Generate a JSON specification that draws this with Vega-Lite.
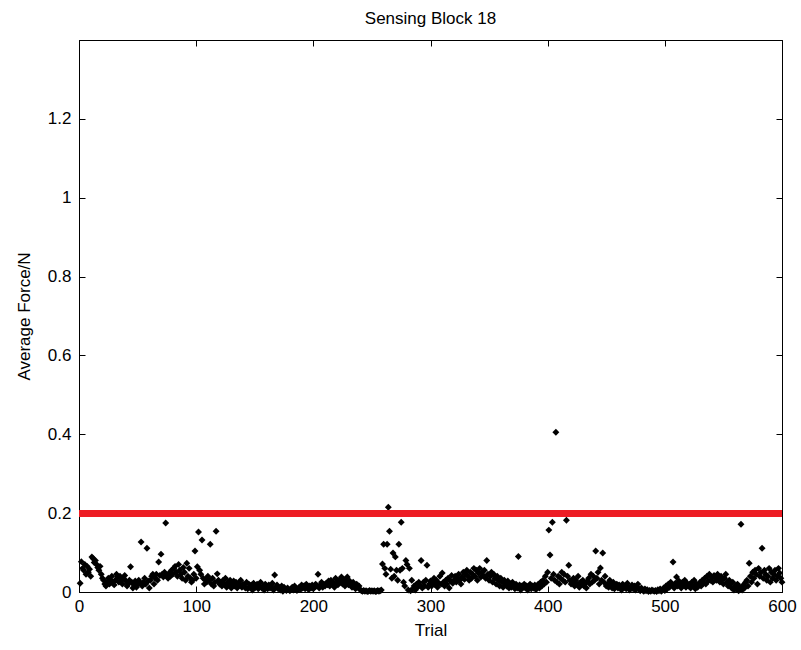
{
  "$schema": "https://vega.github.io/schema/vega-lite/v6.json",
  "width": 703,
  "height": 552,
  "autosize": {"type": "none"},
  "padding": {"left": 79, "top": 40, "right": 19, "bottom": 58},
  "background": "white",
  "title": {"text": "Sensing Block 18", "font": "Liberation Sans", "fontSize": 17, "fontWeight": "normal", "color": "black", "offset": 12},
  "config": {
    "view": {"stroke": "black", "strokeWidth": 1},
    "axis": {"domainColor": "black", "tickColor": "black", "labelColor": "black", "titleColor": "black", "labelFont": "Liberation Sans", "titleFont": "Liberation Sans", "labelFontSize": 17, "titleFontSize": 17, "titleFontWeight": "normal", "grid": false}
  },
  "data": {"values": [
{"t":1,"f":0.022},{"t":2,"f":0.077},{"t":3,"f":0.06},{"t":4,"f":0.055},{"t":5,"f":0.07},{"t":6,"f":0.045},{"t":7,"f":0.065},{"t":8,"f":0.05},{"t":9,"f":0.058},{"t":10,"f":0.04},
{"t":11,"f":0.089},{"t":12,"f":0.085},{"t":13,"f":0.075},{"t":14,"f":0.08},{"t":15,"f":0.07},{"t":16,"f":0.062},{"t":17,"f":0.055},{"t":18,"f":0.065},{"t":19,"f":0.045},{"t":20,"f":0.035},
{"t":21,"f":0.03},{"t":22,"f":0.02},{"t":23,"f":0.015},{"t":24,"f":0.025},{"t":25,"f":0.035},{"t":26,"f":0.02},{"t":27,"f":0.03},{"t":28,"f":0.04},{"t":29,"f":0.025},{"t":30,"f":0.018},
{"t":31,"f":0.03},{"t":32,"f":0.045},{"t":33,"f":0.038},{"t":34,"f":0.025},{"t":35,"f":0.04},{"t":36,"f":0.03},{"t":37,"f":0.02},{"t":38,"f":0.035},{"t":39,"f":0.042},{"t":40,"f":0.028},
{"t":41,"f":0.015},{"t":42,"f":0.02},{"t":43,"f":0.03},{"t":44,"f":0.064},{"t":45,"f":0.025},{"t":46,"f":0.01},{"t":47,"f":0.018},{"t":48,"f":0.028},{"t":49,"f":0.012},{"t":50,"f":0.02},
{"t":51,"f":0.03},{"t":52,"f":0.022},{"t":53,"f":0.127},{"t":54,"f":0.015},{"t":55,"f":0.025},{"t":56,"f":0.035},{"t":57,"f":0.02},{"t":58,"f":0.111},{"t":59,"f":0.028},{"t":60,"f":0.01},
{"t":61,"f":0.03},{"t":62,"f":0.04},{"t":63,"f":0.045},{"t":64,"f":0.02},{"t":65,"f":0.035},{"t":66,"f":0.045},{"t":67,"f":0.03},{"t":68,"f":0.076},{"t":69,"f":0.042},{"t":70,"f":0.096},
{"t":71,"f":0.045},{"t":72,"f":0.038},{"t":73,"f":0.05},{"t":74,"f":0.175},{"t":75,"f":0.042},{"t":76,"f":0.035},{"t":77,"f":0.048},{"t":78,"f":0.04},{"t":79,"f":0.055},{"t":80,"f":0.045},
{"t":81,"f":0.06},{"t":82,"f":0.065},{"t":83,"f":0.05},{"t":84,"f":0.04},{"t":85,"f":0.07},{"t":86,"f":0.055},{"t":87,"f":0.045},{"t":88,"f":0.035},{"t":89,"f":0.062},{"t":90,"f":0.05},
{"t":91,"f":0.03},{"t":92,"f":0.073},{"t":93,"f":0.04},{"t":94,"f":0.06},{"t":95,"f":0.035},{"t":96,"f":0.025},{"t":97,"f":0.03},{"t":98,"f":0.045},{"t":99,"f":0.104},{"t":100,"f":0.035},
{"t":101,"f":0.064},{"t":102,"f":0.152},{"t":103,"f":0.055},{"t":104,"f":0.045},{"t":105,"f":0.132},{"t":106,"f":0.035},{"t":107,"f":0.02},{"t":108,"f":0.03},{"t":109,"f":0.025},{"t":110,"f":0.04},
{"t":111,"f":0.03},{"t":112,"f":0.121},{"t":113,"f":0.02},{"t":114,"f":0.035},{"t":115,"f":0.015},{"t":116,"f":0.025},{"t":117,"f":0.154},{"t":118,"f":0.046},{"t":119,"f":0.03},{"t":120,"f":0.02},
{"t":121,"f":0.025},{"t":122,"f":0.015},{"t":123,"f":0.03},{"t":124,"f":0.02},{"t":125,"f":0.035},{"t":126,"f":0.012},{"t":127,"f":0.025},{"t":128,"f":0.018},{"t":129,"f":0.03},{"t":130,"f":0.01},
{"t":131,"f":0.02},{"t":132,"f":0.028},{"t":133,"f":0.015},{"t":134,"f":0.025},{"t":135,"f":0.01},{"t":136,"f":0.022},{"t":137,"f":0.018},{"t":138,"f":0.03},{"t":139,"f":0.012},{"t":140,"f":0.02},
{"t":141,"f":0.015},{"t":142,"f":0.01},{"t":143,"f":0.025},{"t":144,"f":0.008},{"t":145,"f":0.02},{"t":146,"f":0.012},{"t":147,"f":0.018},{"t":148,"f":0.005},{"t":149,"f":0.022},{"t":150,"f":0.01},
{"t":151,"f":0.015},{"t":152,"f":0.02},{"t":153,"f":0.008},{"t":154,"f":0.012},{"t":155,"f":0.025},{"t":156,"f":0.01},{"t":157,"f":0.015},{"t":158,"f":0.005},{"t":159,"f":0.02},{"t":160,"f":0.012},
{"t":161,"f":0.008},{"t":162,"f":0.018},{"t":163,"f":0.01},{"t":164,"f":0.015},{"t":165,"f":0.022},{"t":166,"f":0.005},{"t":167,"f":0.043},{"t":168,"f":0.012},{"t":169,"f":0.018},{"t":170,"f":0.008},
{"t":171,"f":0.01},{"t":172,"f":0.005},{"t":173,"f":0.015},{"t":174,"f":0.002},{"t":175,"f":0.012},{"t":176,"f":0.008},{"t":177,"f":0.004},{"t":178,"f":0.01},{"t":179,"f":0.006},{"t":180,"f":0.003},
{"t":181,"f":0.008},{"t":182,"f":0.012},{"t":183,"f":0.005},{"t":184,"f":0.015},{"t":185,"f":0.01},{"t":186,"f":0.004},{"t":187,"f":0.008},{"t":188,"f":0.012},{"t":189,"f":0.006},{"t":190,"f":0.018},
{"t":191,"f":0.01},{"t":192,"f":0.015},{"t":193,"f":0.008},{"t":194,"f":0.02},{"t":195,"f":0.012},{"t":196,"f":0.006},{"t":197,"f":0.015},{"t":198,"f":0.01},{"t":199,"f":0.018},{"t":200,"f":0.008},
{"t":201,"f":0.012},{"t":202,"f":0.02},{"t":203,"f":0.015},{"t":204,"f":0.045},{"t":205,"f":0.01},{"t":206,"f":0.018},{"t":207,"f":0.025},{"t":208,"f":0.012},{"t":209,"f":0.02},{"t":210,"f":0.015},
{"t":211,"f":0.022},{"t":212,"f":0.018},{"t":213,"f":0.028},{"t":214,"f":0.015},{"t":215,"f":0.03},{"t":216,"f":0.02},{"t":217,"f":0.025},{"t":218,"f":0.012},{"t":219,"f":0.035},{"t":220,"f":0.022},
{"t":221,"f":0.018},{"t":222,"f":0.03},{"t":223,"f":0.025},{"t":224,"f":0.038},{"t":225,"f":0.02},{"t":226,"f":0.032},{"t":227,"f":0.015},{"t":228,"f":0.025},{"t":229,"f":0.038},{"t":230,"f":0.018},
{"t":231,"f":0.028},{"t":232,"f":0.022},{"t":233,"f":0.012},{"t":234,"f":0.025},{"t":235,"f":0.018},{"t":236,"f":0.008},{"t":237,"f":0.02},{"t":238,"f":0.012},{"t":239,"f":0.015},{"t":240,"f":0.006},
{"t":241,"f":0.003},{"t":242,"f":0.002},{"t":243,"f":0.004},{"t":244,"f":0.002},{"t":245,"f":0.003},{"t":246,"f":0.001},{"t":247,"f":0.002},{"t":248,"f":0.004},{"t":249,"f":0.002},{"t":250,"f":0.003},
{"t":251,"f":0.002},{"t":252,"f":0.003},{"t":253,"f":0.001},{"t":254,"f":0.002},{"t":255,"f":0.004},{"t":256,"f":0.002},{"t":257,"f":0.003},{"t":258,"f":0.005},{"t":259,"f":0.071},{"t":260,"f":0.121},
{"t":261,"f":0.06},{"t":262,"f":0.045},{"t":263,"f":0.121},{"t":264,"f":0.215},{"t":265,"f":0.154},{"t":266,"f":0.058},{"t":267,"f":0.035},{"t":268,"f":0.099},{"t":269,"f":0.04},{"t":270,"f":0.089},
{"t":271,"f":0.055},{"t":272,"f":0.03},{"t":273,"f":0.121},{"t":274,"f":0.055},{"t":275,"f":0.177},{"t":276,"f":0.06},{"t":277,"f":0.025},{"t":278,"f":0.015},{"t":279,"f":0.08},{"t":280,"f":0.07},
{"t":281,"f":0.005},{"t":282,"f":0.06},{"t":283,"f":0.003},{"t":284,"f":0.03},{"t":285,"f":0.008},{"t":286,"f":0.015},{"t":287,"f":0.005},{"t":288,"f":0.02},{"t":289,"f":0.012},{"t":290,"f":0.025},
{"t":291,"f":0.018},{"t":292,"f":0.08},{"t":293,"f":0.01},{"t":294,"f":0.025},{"t":295,"f":0.015},{"t":296,"f":0.03},{"t":297,"f":0.068},{"t":298,"f":0.012},{"t":299,"f":0.02},{"t":300,"f":0.028},
{"t":301,"f":0.015},{"t":302,"f":0.025},{"t":303,"f":0.035},{"t":304,"f":0.018},{"t":305,"f":0.03},{"t":306,"f":0.012},{"t":307,"f":0.022},{"t":308,"f":0.04},{"t":309,"f":0.02},{"t":310,"f":0.048},
{"t":311,"f":0.025},{"t":312,"f":0.015},{"t":313,"f":0.03},{"t":314,"f":0.02},{"t":315,"f":0.035},{"t":316,"f":0.01},{"t":317,"f":0.028},{"t":318,"f":0.042},{"t":319,"f":0.022},{"t":320,"f":0.03},
{"t":321,"f":0.04},{"t":322,"f":0.025},{"t":323,"f":0.035},{"t":324,"f":0.045},{"t":325,"f":0.03},{"t":326,"f":0.02},{"t":327,"f":0.038},{"t":328,"f":0.05},{"t":329,"f":0.032},{"t":330,"f":0.045},
{"t":331,"f":0.055},{"t":332,"f":0.04},{"t":333,"f":0.03},{"t":334,"f":0.05},{"t":335,"f":0.035},{"t":336,"f":0.045},{"t":337,"f":0.06},{"t":338,"f":0.04},{"t":339,"f":0.055},{"t":340,"f":0.03},
{"t":341,"f":0.048},{"t":342,"f":0.06},{"t":343,"f":0.038},{"t":344,"f":0.05},{"t":345,"f":0.042},{"t":346,"f":0.055},{"t":347,"f":0.035},{"t":348,"f":0.08},{"t":349,"f":0.045},{"t":350,"f":0.03},
{"t":351,"f":0.04},{"t":352,"f":0.05},{"t":353,"f":0.025},{"t":354,"f":0.045},{"t":355,"f":0.035},{"t":356,"f":0.02},{"t":357,"f":0.04},{"t":358,"f":0.03},{"t":359,"f":0.015},{"t":360,"f":0.035},
{"t":361,"f":0.025},{"t":362,"f":0.012},{"t":363,"f":0.03},{"t":364,"f":0.02},{"t":365,"f":0.015},{"t":366,"f":0.028},{"t":367,"f":0.01},{"t":368,"f":0.02},{"t":369,"f":0.012},{"t":370,"f":0.025},
{"t":371,"f":0.015},{"t":372,"f":0.008},{"t":373,"f":0.02},{"t":374,"f":0.01},{"t":375,"f":0.09},{"t":376,"f":0.018},{"t":377,"f":0.005},{"t":378,"f":0.015},{"t":379,"f":0.012},{"t":380,"f":0.02},
{"t":381,"f":0.01},{"t":382,"f":0.015},{"t":383,"f":0.005},{"t":384,"f":0.012},{"t":385,"f":0.02},{"t":386,"f":0.008},{"t":387,"f":0.015},{"t":388,"f":0.01},{"t":389,"f":0.018},{"t":390,"f":0.006},
{"t":391,"f":0.012},{"t":392,"f":0.02},{"t":393,"f":0.01},{"t":394,"f":0.025},{"t":395,"f":0.015},{"t":396,"f":0.03},{"t":397,"f":0.02},{"t":398,"f":0.04},{"t":399,"f":0.025},{"t":400,"f":0.05},
{"t":401,"f":0.157},{"t":402,"f":0.094},{"t":403,"f":0.035},{"t":404,"f":0.177},{"t":405,"f":0.045},{"t":406,"f":0.03},{"t":407,"f":0.405},{"t":408,"f":0.025},{"t":409,"f":0.04},{"t":410,"f":0.02},
{"t":411,"f":0.035},{"t":412,"f":0.05},{"t":413,"f":0.03},{"t":414,"f":0.045},{"t":415,"f":0.025},{"t":416,"f":0.182},{"t":417,"f":0.04},{"t":418,"f":0.068},{"t":419,"f":0.03},{"t":420,"f":0.02},
{"t":421,"f":0.025},{"t":422,"f":0.035},{"t":423,"f":0.015},{"t":424,"f":0.03},{"t":425,"f":0.02},{"t":426,"f":0.04},{"t":427,"f":0.012},{"t":428,"f":0.025},{"t":429,"f":0.018},{"t":430,"f":0.03},
{"t":431,"f":0.015},{"t":432,"f":0.022},{"t":433,"f":0.01},{"t":434,"f":0.028},{"t":435,"f":0.035},{"t":436,"f":0.02},{"t":437,"f":0.045},{"t":438,"f":0.025},{"t":439,"f":0.04},{"t":440,"f":0.03},
{"t":441,"f":0.104},{"t":442,"f":0.035},{"t":443,"f":0.05},{"t":444,"f":0.02},{"t":445,"f":0.061},{"t":446,"f":0.03},{"t":447,"f":0.099},{"t":448,"f":0.025},{"t":449,"f":0.04},{"t":450,"f":0.015},
{"t":451,"f":0.02},{"t":452,"f":0.012},{"t":453,"f":0.03},{"t":454,"f":0.018},{"t":455,"f":0.01},{"t":456,"f":0.025},{"t":457,"f":0.008},{"t":458,"f":0.015},{"t":459,"f":0.02},{"t":460,"f":0.01},
{"t":461,"f":0.018},{"t":462,"f":0.012},{"t":463,"f":0.005},{"t":464,"f":0.02},{"t":465,"f":0.01},{"t":466,"f":0.015},{"t":467,"f":0.008},{"t":468,"f":0.022},{"t":469,"f":0.012},{"t":470,"f":0.005},
{"t":471,"f":0.01},{"t":472,"f":0.018},{"t":473,"f":0.008},{"t":474,"f":0.015},{"t":475,"f":0.005},{"t":476,"f":0.012},{"t":477,"f":0.02},{"t":478,"f":0.008},{"t":479,"f":0.003},{"t":480,"f":0.01},
{"t":481,"f":0.005},{"t":482,"f":0.002},{"t":483,"f":0.008},{"t":484,"f":0.003},{"t":485,"f":0.006},{"t":486,"f":0.001},{"t":487,"f":0.004},{"t":488,"f":0.002},{"t":489,"f":0.005},{"t":490,"f":0.003},
{"t":491,"f":0.002},{"t":492,"f":0.004},{"t":493,"f":0.001},{"t":494,"f":0.006},{"t":495,"f":0.003},{"t":496,"f":0.008},{"t":497,"f":0.002},{"t":498,"f":0.005},{"t":499,"f":0.01},{"t":500,"f":0.004},
{"t":501,"f":0.015},{"t":502,"f":0.008},{"t":503,"f":0.02},{"t":504,"f":0.012},{"t":505,"f":0.025},{"t":506,"f":0.018},{"t":507,"f":0.076},{"t":508,"f":0.01},{"t":509,"f":0.022},{"t":510,"f":0.038},
{"t":511,"f":0.015},{"t":512,"f":0.028},{"t":513,"f":0.02},{"t":514,"f":0.01},{"t":515,"f":0.025},{"t":516,"f":0.018},{"t":517,"f":0.03},{"t":518,"f":0.012},{"t":519,"f":0.022},{"t":520,"f":0.015},
{"t":521,"f":0.02},{"t":522,"f":0.01},{"t":523,"f":0.025},{"t":524,"f":0.015},{"t":525,"f":0.03},{"t":526,"f":0.008},{"t":527,"f":0.02},{"t":528,"f":0.012},{"t":529,"f":0.018},{"t":530,"f":0.025},
{"t":531,"f":0.015},{"t":532,"f":0.03},{"t":533,"f":0.022},{"t":534,"f":0.035},{"t":535,"f":0.02},{"t":536,"f":0.04},{"t":537,"f":0.028},{"t":538,"f":0.045},{"t":539,"f":0.03},{"t":540,"f":0.038},
{"t":541,"f":0.025},{"t":542,"f":0.042},{"t":543,"f":0.035},{"t":544,"f":0.03},{"t":545,"f":0.045},{"t":546,"f":0.038},{"t":547,"f":0.025},{"t":548,"f":0.04},{"t":549,"f":0.032},{"t":550,"f":0.02},
{"t":551,"f":0.035},{"t":552,"f":0.045},{"t":553,"f":0.025},{"t":554,"f":0.015},{"t":555,"f":0.03},{"t":556,"f":0.02},{"t":557,"f":0.01},{"t":558,"f":0.025},{"t":559,"f":0.005},{"t":560,"f":0.015},
{"t":561,"f":0.008},{"t":562,"f":0.02},{"t":563,"f":0.003},{"t":564,"f":0.012},{"t":565,"f":0.172},{"t":566,"f":0.005},{"t":567,"f":0.018},{"t":568,"f":0.01},{"t":569,"f":0.025},{"t":570,"f":0.03},
{"t":571,"f":0.015},{"t":572,"f":0.073},{"t":573,"f":0.04},{"t":574,"f":0.025},{"t":575,"f":0.05},{"t":576,"f":0.035},{"t":577,"f":0.055},{"t":578,"f":0.045},{"t":579,"f":0.02},{"t":580,"f":0.06},
{"t":581,"f":0.04},{"t":582,"f":0.05},{"t":583,"f":0.111},{"t":584,"f":0.035},{"t":585,"f":0.055},{"t":586,"f":0.045},{"t":587,"f":0.03},{"t":588,"f":0.04},{"t":589,"f":0.06},{"t":590,"f":0.025},
{"t":591,"f":0.05},{"t":592,"f":0.035},{"t":593,"f":0.045},{"t":594,"f":0.055},{"t":595,"f":0.03},{"t":596,"f":0.04},{"t":597,"f":0.06},{"t":598,"f":0.048},{"t":599,"f":0.035},{"t":600,"f":0.025}
  ]},
  "resolve": {"axis": {"x": "independent", "y": "independent"}},
  "layer": [
    {
      "mark": {"type": "point", "shape": "diamond", "filled": true, "color": "black", "opacity": 1, "size": 48},
      "encoding": {
        "x": {"field": "t", "type": "quantitative", "scale": {"domain": [0, 600], "nice": false, "zero": false},
              "axis": {"title": "Trial", "values": [0,100,200,300,400,500,600], "format": "d", "tickSize": -6, "labelPadding": 12, "titlePadding": 8, "labelFlush": false}},
        "y": {"field": "f", "type": "quantitative", "scale": {"domain": [0, 1.4], "nice": false},
              "axis": {"title": "Average Force/N", "values": [0,0.2,0.4,0.6,0.8,1,1.2], "format": "~g", "tickSize": -6, "labelPadding": 14, "titlePadding": 14, "labelFlush": false}}
      }
    },
    {
      "mark": {"type": "point", "opacity": 0},
      "encoding": {
        "x": {"field": "t", "type": "quantitative", "axis": {"orient": "top", "title": null, "labels": false, "values": [0,100,200,300,400,500,600], "tickSize": -6}},
        "y": {"field": "f", "type": "quantitative", "axis": {"orient": "right", "title": null, "labels": false, "values": [0,0.2,0.4,0.6,0.8,1,1.2], "tickSize": -6}}
      }
    },
    {
      "mark": {"type": "rule", "color": "#ed1c24", "strokeWidth": 6},
      "encoding": {
        "y": {"datum": 0.2, "type": "quantitative", "axis": null}
      }
    }
  ]
}
